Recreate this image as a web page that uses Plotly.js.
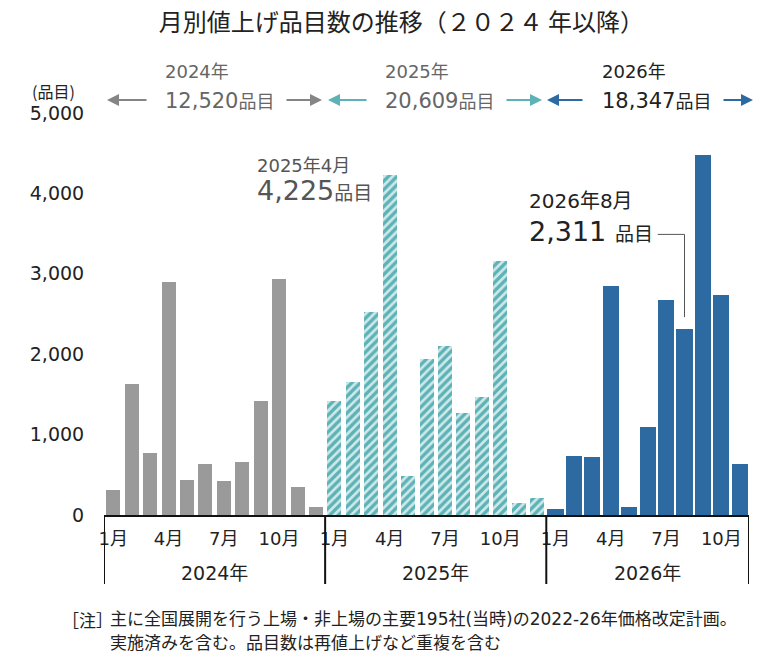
<!DOCTYPE html>
<html>
<head>
<meta charset="utf-8">
<script src="https://cdn.plot.ly/plotly-3.0.1.min.js"></script>
<style>
  html, body { margin: 0; padding: 0; background: #fff; }
  #chart { width: 784px; height: 665px; }
</style>
</head>
<body>
<div id="chart"></div>
<script>
// 月別値上げ品目数
var monthNames = ['1月', '2月', '3月', '4月', '5月', '6月', '7月', '8月', '9月', '10月', '11月', '12月']
var shownMonths = ['1月', '4月', '7月', '10月']
var years = ['2024年', '2025年', '2026年']
var yearTotals = ['12,520', '20,609', '18,347']
var items2024 = [305, 1630, 765, 2900, 430, 630, 420, 665, 1415, 2930, 345, 105]
var items2025 = [1420, 1660, 2530, 4225, 480, 1940, 2100, 1265, 1465, 3160, 150, 215]
var items2026 = [70, 730, 720, 2850, 95, 1090, 2680, 2311, 4480, 2740, 640]
var yTicks = [0, 1000, 2000, 3000, 4000, 5000]

var W = 784, H = 665
var L = 104, R = 35, T = 113, B = 150
var FONT = 'DejaVu Sans, Noto Sans CJK JP, sans-serif'
var JP = 'Noto Sans CJK JP, sans-serif'

// pixel -> paper helpers for the decorations
function px(x) { return (x - L) / (W - L - R) }
function py(y) { return (H - B - y) / (H - T - B) }

var series = [items2024, items2025, items2026]
var offsets = []
var off = 0
for (var s = 0; s < series.length; s++) {
    offsets.push(off)
    off += series[s].length
}
var lastIdx = off - 1

function xs(k) {
    var out = []
    for (var i = 0; i < series[k].length; i++) out.push(offsets[k] + i)
    return out
}

var tickvals = []
var ticktext = []
for (var k = 0; k < series.length; k++) {
    for (var j = 0; j < shownMonths.length; j++) {
        var mi = monthNames.indexOf(shownMonths[j])
        if (mi < series[k].length) {
            tickvals.push(offsets[k] + mi)
            ticktext.push(shownMonths[j])
        }
    }
}

var t2024 = {
    x: xs(0), y: items2024, type: 'bar', width: 0.76,
    marker: { color: '#9a9a9a', line: { width: 0 } },
    hoverinfo: 'y'
}
var t2025 = {
    x: xs(1), y: items2025, type: 'bar', width: 0.76,
    marker: {
        color: '#cfe9ea',
        line: { width: 0 },
        pattern: { shape: '/', fgcolor: '#5cb2b6', bgcolor: '#cfe9ea', size: 6, solidity: 0.55 }
    },
    hoverinfo: 'y'
}
var t2026 = {
    x: xs(2), y: items2026, type: 'bar', width: 0.87,
    marker: { color: '#2c6aa1', line: { width: 0 } },
    hoverinfo: 'y'
}

// bracket under the axis
var shapes = []
var bounds = offsets.concat([lastIdx + 1])
for (var b = 0; b < bounds.length; b++) {
    shapes.push({
        type: 'line', xref: 'x', yref: 'paper',
        x0: bounds[b] - 0.5, x1: bounds[b] - 0.5, y0: 0, y1: py(584),
        line: { color: '#111', width: 2 }, layer: 'above'
    })
}
// leader line to 2026年8月
var augIdx = offsets[2] + monthNames.indexOf('8月')
var augVal = items2026[monthNames.indexOf('8月')]
shapes.push({
    type: 'path', xref: 'x', yref: 'y',
    path: 'M ' + (augIdx - 1.45) + ',3490 L ' + augIdx + ',3490 L ' + augIdx + ',' + (augVal + 150),
    line: { color: '#555', width: 1 }
})

var headColors = ['#666', '#666', '#222']
var arrowColors = ['#858585', '#5cb2b6', '#2c6aa1']
var headLeft = [163, 383, 600]
var arrowPx = [[107, 148, 285, 322], [328, 368, 505, 542], [547, 584, 722, 753]]

var annotations = [
    { text: '(品目)', xref: 'paper', yref: 'paper', x: px(30), y: py(91), xanchor: 'left', yanchor: 'middle',
      showarrow: false, font: { family: JP, size: 16, color: '#222' } },
    { text: '［注］', xref: 'paper', yref: 'paper', x: px(60), y: py(619), xanchor: 'left', yanchor: 'middle',
      showarrow: false, font: { family: JP, size: 17, color: '#222' } },
    { text: '主に全国展開を行う上場・非上場の主要195社(当時)の2022-26年価格改定計画。', xref: 'paper', yref: 'paper',
      x: px(108), y: py(619), xanchor: 'left', yanchor: 'middle',
      showarrow: false, font: { family: FONT, size: 17, color: '#222' } },
    { text: '実施済みを含む。品目数は再値上げなど重複を含む', xref: 'paper', yref: 'paper',
      x: px(108), y: py(643), xanchor: 'left', yanchor: 'middle',
      showarrow: false, font: { family: FONT, size: 17, color: '#222' } },
    { text: '2025年4月', xref: 'paper', yref: 'paper', x: px(255), y: py(165), xanchor: 'left', yanchor: 'middle',
      showarrow: false, font: { family: FONT, size: 18, color: '#555' } },
    { text: items2025[3].toLocaleString('en-US') + '<span style="font-size:19px">品目</span>', xref: 'paper', yref: 'paper',
      x: px(255), y: py(190), xanchor: 'left', yanchor: 'middle',
      showarrow: false, font: { family: FONT, size: 27, color: '#555' } },
    { text: '2026年8月', xref: 'paper', yref: 'paper', x: px(527), y: py(201), xanchor: 'left', yanchor: 'middle',
      showarrow: false, font: { family: FONT, size: 20, color: '#222' } },
    { text: augVal.toLocaleString('en-US') + ' <span style="font-size:19px">品目</span>', xref: 'paper', yref: 'paper',
      x: px(527), y: py(231), xanchor: 'left', yanchor: 'middle',
      showarrow: false, font: { family: FONT, size: 27, color: '#222' } }
]

for (var k = 0; k < years.length; k++) {
    // year label under the bracket
    annotations.push({
        text: years[k], xref: 'x', yref: 'paper',
        x: (bounds[k] + bounds[k + 1] - 1) / 2, y: py(573), xanchor: 'center', yanchor: 'middle',
        showarrow: false, font: { family: FONT, size: 19, color: '#222' }
    })
    // header totals
    annotations.push({
        text: years[k], xref: 'paper', yref: 'paper', x: px(headLeft[k]), y: py(72),
        xanchor: 'left', yanchor: 'middle', showarrow: false,
        font: { family: FONT, size: 18, color: headColors[k] }
    })
    annotations.push({
        text: yearTotals[k] + '<span style="font-size:18px">品目</span>', xref: 'paper', yref: 'paper',
        x: px(headLeft[k]), y: py(101), xanchor: 'left', yanchor: 'middle', showarrow: false,
        font: { family: FONT, size: 21, color: headColors[k] }
    })
    var a = arrowPx[k]
    annotations.push({
        text: '', xref: 'paper', yref: 'paper', x: px(a[0]), y: py(100),
        ax: a[1] - a[0], ay: 0, showarrow: true, arrowhead: 2, arrowsize: 1.2, arrowwidth: 2,
        arrowcolor: arrowColors[k]
    })
    annotations.push({
        text: '', xref: 'paper', yref: 'paper', x: px(a[3]), y: py(100),
        ax: a[2] - a[3], ay: 0, showarrow: true, arrowhead: 2, arrowsize: 1.2, arrowwidth: 2,
        arrowcolor: arrowColors[k]
    })
}

var layout = {
    width: W,
    height: H,
    margin: { l: L, r: R, t: T, b: B, pad: 0 },
    paper_bgcolor: '#fff',
    plot_bgcolor: '#fff',
    showlegend: false,
    bargap: 0,
    title: {
        text: '月別値上げ品目数の推移（２０２４ 年以降）',
        x: 0.512, xanchor: 'center',
        y: 1 - 23 / H, yanchor: 'middle',
        font: { family: JP, size: 24, color: '#222' }
    },
    xaxis: {
        range: [-0.5, lastIdx + 0.5],
        tickvals: tickvals,
        ticktext: ticktext,
        ticks: 'outside', ticklen: 6, tickcolor: 'rgba(0,0,0,0)',
        showline: true, linecolor: '#111', linewidth: 2,
        showgrid: false, zeroline: false,
        tickfont: { family: FONT, size: 18, color: '#222' },
        fixedrange: true
    },
    yaxis: {
        range: [0, 5000],
        tickvals: yTicks,
        tickformat: ',d',
        ticks: 'outside', ticklen: 15, tickcolor: 'rgba(0,0,0,0)',
        showline: false, showgrid: false, zeroline: false,
        tickfont: { family: FONT, size: 19, color: '#222' },
        fixedrange: true
    },
    shapes: shapes,
    annotations: annotations
}

var config = { responsive: false, displayModeBar: false }

Plotly.newPlot('chart', [t2024, t2025, t2026], layout, config)
</script>
</body>
</html>
